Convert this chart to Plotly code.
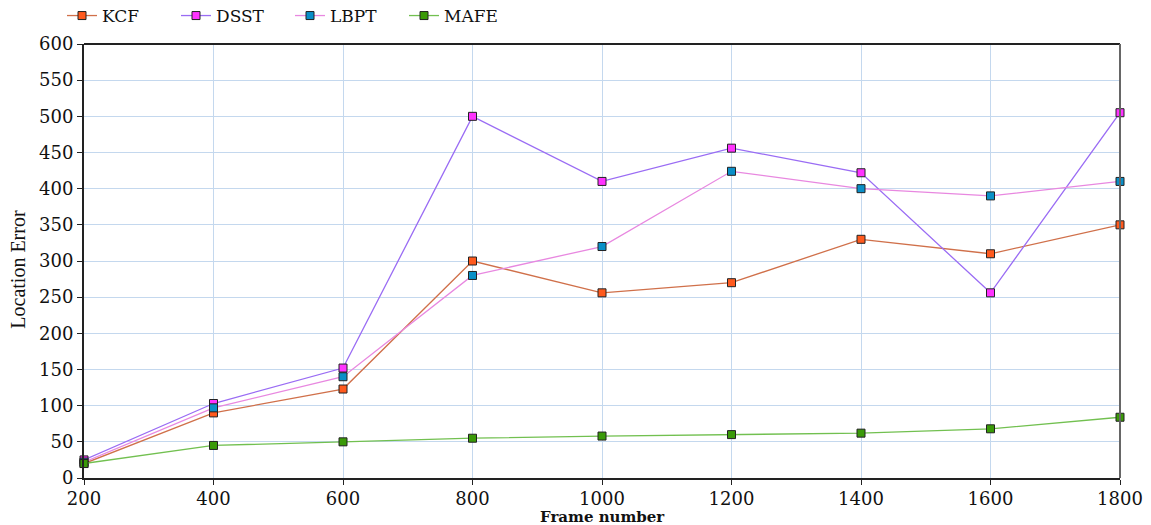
import plotly.graph_objects as go

frames = [200, 400, 600, 800, 1000, 1200, 1400, 1600, 1800]
kcf = [20, 90, 123, 300, 256, 270, 330, 310, 350]
dsst = [25, 103, 152, 500, 410, 456, 422, 256, 505]
lbpt = [22, 97, 140, 280, 320, 424, 400, 390, 410]
mafe = [20, 45, 50, 55, 58, 60, 62, 68, 84]

series = [
    ("KCF", kcf, "#d0704a", "#ff5a1e"),
    ("DSST", dsst, "#9a6cf4", "#ff33ff"),
    ("LBPT", lbpt, "#e888e0", "#0a8fc8"),
    ("MAFE", mafe, "#72c050", "#3a9a08"),
]

fig = go.Figure()
for name, vals, lc, mc in series:
    fig.add_trace(go.Scatter(
        x=frames, y=vals, name=name, mode="lines+markers",
        line=dict(color=lc, width=1.3),
        marker=dict(symbol="square", size=8, color=mc,
                    line=dict(color="#222222", width=1)),
        cliponaxis=False,
    ))

wide = "DejaVu Serif"
narrow = "Liberation Serif"
fig.update_layout(
    width=1143, height=517,
    margin=dict(l=76, r=31, t=36, b=47, autoexpand=False),
    plot_bgcolor="white", paper_bgcolor="white",
    font=dict(family=wide, size=16, color="#111111"),
    legend=dict(orientation="h", x=54 / 1143, y=1 + 28 / 434, xref="container", yref="paper",
                xanchor="left", yanchor="middle", font=dict(family=wide, size=17),
                itemwidth=30, tracegroupgap=0, entrywidth=69,
                bgcolor="rgba(0,0,0,0)"),
    showlegend=True,
)
fig.update_xaxes(
    range=[200, 1800], tickvals=frames, showgrid=True, gridcolor="#c4d8ee", gridwidth=1,
    showline=True, linecolor="#222222", linewidth=2, mirror=False,
    ticks="outside", ticklen=5, tickcolor="#222222", ticklabelstandoff=-2,
    zeroline=False, tickfont=dict(family=wide, size=18), automargin=False,
)
fig.update_yaxes(
    range=[0, 600], dtick=50, showgrid=True, gridcolor="#c4d8ee", gridwidth=1,
    showline=True, linecolor="#222222", linewidth=2, mirror=False,
    ticks="outside", ticklen=5, tickcolor="#222222",
    zeroline=False, tickfont=dict(family=wide, size=18), automargin=False,
)
fig.add_annotation(text="Frame number", xref="paper", yref="paper", x=0.5, y=-39 / 434,
                   xanchor="center", yanchor="middle", showarrow=False,
                   font=dict(family=wide, size=15, weight="bold", color="#111111"))
fig.add_annotation(text="Location Error", xref="paper", yref="paper", x=-66 / 1036, y=0.48,
                   xanchor="center", yanchor="middle", showarrow=False, textangle=-90,
                   font=dict(family=narrow, size=20, color="#111111"))
fig.add_shape(type="line", xref="paper", yref="paper", x0=0, x1=1, y0=1, y1=1,
              line=dict(color="#222222", width=2))
fig.add_shape(type="line", xref="paper", yref="paper", x0=1, x1=1, y0=0, y1=1,
              line=dict(color="#666666", width=2))
fig.write_html("out.html")
